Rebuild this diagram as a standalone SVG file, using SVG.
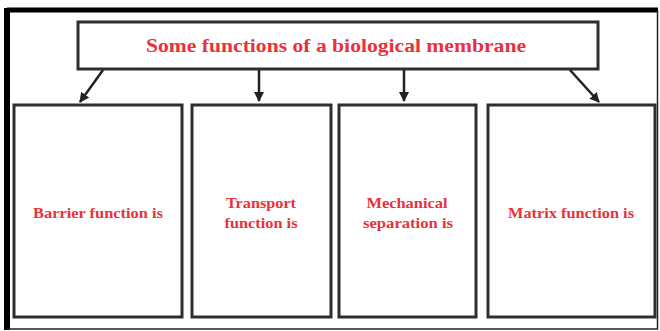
<svg xmlns="http://www.w3.org/2000/svg" width="660" height="331" viewBox="0 0 660 331">
<defs>
<style>
.box{fill:#fff;stroke:#2e2e2e;stroke-width:3}
.t{font-family:"Liberation Serif","Times New Roman",serif;font-weight:bold;fill:#e8323c;text-anchor:middle}
.s{font-size:14px}
.c{stroke:#222;stroke-width:2.5;fill:none;marker-end:url(#ah)}
</style>
<marker id="ah" viewBox="0 0 10 10" refX="9" refY="5" markerWidth="4" markerHeight="4" orient="auto" markerUnits="strokeWidth">
<path d="M0,0 L10,5 L0,10 z" fill="#222"/>
</marker>
</defs>
<rect width="660" height="331" fill="#fff"/>
<g id="frame">
<line x1="7" y1="10" x2="658" y2="10" stroke="#000" stroke-width="5"/>
<line x1="7" y1="8" x2="7" y2="330" stroke="#000" stroke-width="6"/>
<line x1="657.5" y1="10" x2="657.5" y2="329" stroke="#222" stroke-width="1.5"/>
<line x1="7" y1="329" x2="658" y2="329" stroke="#222" stroke-width="1.5"/>
</g>
<g id="title">
<rect class="box" x="78" y="22" width="520" height="47"/>
<text class="t" x="336" y="52" font-size="19" textLength="380" lengthAdjust="spacingAndGlyphs">Some functions of a biological membrane</text>
</g>
<g id="connectors">
<line class="c" x1="103" y1="70" x2="80" y2="102"/>
<line class="c" x1="259" y1="70" x2="259" y2="101"/>
<line class="c" x1="404" y1="70" x2="404" y2="101"/>
<line class="c" x1="570" y1="70" x2="599" y2="102"/>
</g>
<g id="barrier">
<rect class="box" x="14" y="105" width="168" height="212"/>
<text class="t s" x="98" y="218" textLength="130" lengthAdjust="spacingAndGlyphs">Barrier function is</text>
</g>
<g id="transport">
<rect class="box" x="192" y="105" width="139" height="212"/>
<text class="t s" x="261" y="208" textLength="70" lengthAdjust="spacingAndGlyphs">Transport</text>
<text class="t s" x="261" y="228" textLength="73" lengthAdjust="spacingAndGlyphs">function is</text>
</g>
<g id="mechanical">
<rect class="box" x="339" y="105" width="137" height="212"/>
<text class="t s" x="407" y="208" textLength="81" lengthAdjust="spacingAndGlyphs">Mechanical</text>
<text class="t s" x="408" y="228" textLength="90" lengthAdjust="spacingAndGlyphs">separation is</text>
</g>
<g id="matrix">
<rect class="box" x="488" y="105" width="167" height="212"/>
<text class="t s" x="571" y="218" textLength="126" lengthAdjust="spacingAndGlyphs">Matrix function is</text>
</g>
</svg>
